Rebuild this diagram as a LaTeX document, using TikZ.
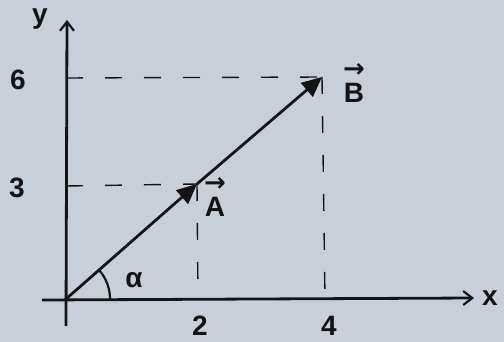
\documentclass[tikz,border=0pt]{standalone}
\usetikzlibrary{arrows.meta}
\usepackage{fontspec}
\newfontfamily\lblfont{Liberation Sans}
\newfontfamily\arrfont{DejaVu Sans}
\definecolor{paper}{RGB}{201,207,217}
\definecolor{ink}{RGB}{20,20,22}
\newcommand{\arrowover}[1]{\vbox{\offinterlineskip\halign{\hfil##\hfil\cr{\arrfont\bfseries\fontsize{26}{26}\selectfont →}\cr\noalign{\kern5pt}#1\cr}}}
\begin{document}
\begin{tikzpicture}[x=1pt,y=-1pt,
  axisline/.style={draw=ink,line width=2.8pt,-{Straight Barb[length=9pt,width=14pt,line width=2.2pt]}},
  vecline/.style={draw=ink,line width=2.8pt,-{Triangle[length=20pt,width=18pt]}},
  guide/.style={draw=ink,line width=1.4pt,dash pattern=on 17pt off 22pt},
  lbl/.style={text=ink,font=\lblfont\bfseries\fontsize{28}{30}\selectfont,inner sep=0pt}]
\fill[paper] (0,0) rectangle (504,342);
\useasboundingbox (0,0) rectangle (504,342);
\coordinate (O) at (66,299);
\coordinate (A) at (197,184);
\coordinate (B) at (322,77);
\coordinate (xs) at (42,300);
\coordinate (xe) at (474,298);
\coordinate (ys) at (66,326);
\coordinate (ye) at (67,20);
\coordinate (y3) at (66,186);
\coordinate (y6) at (66,78);
\coordinate (x2) at (198,299);
\coordinate (x4) at (325,299);
% guides
\draw[guide] (y6) -- (B);
\draw[guide] (B) -- (x4);
\draw[guide] (y3) -- (A);
\draw[guide] (A) -- (x2);
% axes
\draw[axisline] (xs) -- (xe);
\draw[axisline] (ys) -- (ye);
% vectors
\draw[vecline] (O) -- (A);
\draw[vecline] (A) -- (B);
% angle
\draw[ink,line width=2.2pt] (O) ++(44,0) arc[start angle=0,end angle=-41,radius=44];
% labels
\node[lbl] (ylab) at (40,19) {y};
\node[lbl] (xlab) at (490,298) {x};
\node[lbl] (l6) at (18,80) {6};
\node[lbl] (l3) at (17,188) {3};
\node[lbl] (l2) at (200,326) {2};
\node[lbl] (l4) at (329,326) {4};
\node[lbl] (alpha) at (134,280) {α};
\node[lbl] (Alab) at (215,197) {\arrowover{A}};
\node[lbl] (Blab) at (354,83) {\arrowover{B}};
\end{tikzpicture}
\end{document}
